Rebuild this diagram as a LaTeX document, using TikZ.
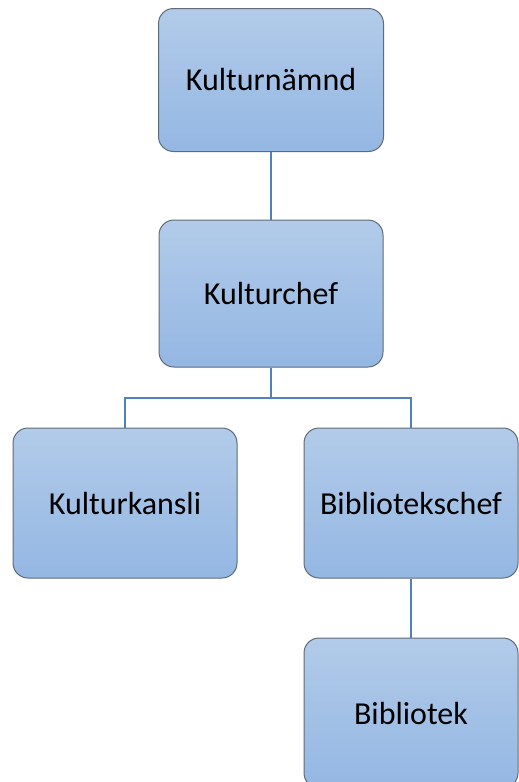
\documentclass[tikz,border=0pt]{standalone}
\usepackage{fontspec}
\setmainfont{Carlito}
\definecolor{boxtop}{HTML}{B2CBE9}
\definecolor{boxbot}{HTML}{94B7E3}
\definecolor{boxline}{HTML}{5F6B78}
\definecolor{linkblue}{HTML}{4F81BD}
\begin{document}
\begin{tikzpicture}[x=1pt,y=-1pt]

      \clip (0,0) rectangle (519,782);
      \useasboundingbox (0,0) rectangle (519,782);

      \begin{scope}[every node/.style={rectangle,rounded corners=15pt,draw=boxline,line width=1pt,
          top color=boxtop,bottom color=boxbot,inner sep=0pt,
          font=\fontsize{32}{38}\selectfont}]
        \node[minimum width=225pt,minimum height=143pt] (namnd)   at (271,80)    {Kulturnämnd};
        \node[minimum width=224pt,minimum height=147pt] (chef)    at (271,293.5) {Kulturchef};
        \node[minimum width=224pt,minimum height=150pt] (kansli)  at (125,503)   {Kulturkansli};
        \node[minimum width=214pt,minimum height=150pt] (bibchef) at (411,503)   {Bibliotekschef};
        \node[minimum width=214pt,minimum height=150pt] (bibl)    at (411,713)   {Bibliotek};
      \end{scope}

      \coordinate (split) at (271,398);

      \begin{scope}[draw=linkblue,line width=2.8pt]
        \draw (namnd)  -- (chef);
        \draw (chef.south) -- (split);
        \draw (split) -| (kansli.north);
        \draw (split) -| (bibchef.north);
        \draw (bibchef) -- (bibl);
      \end{scope}

    \end{tikzpicture}
\end{document}
